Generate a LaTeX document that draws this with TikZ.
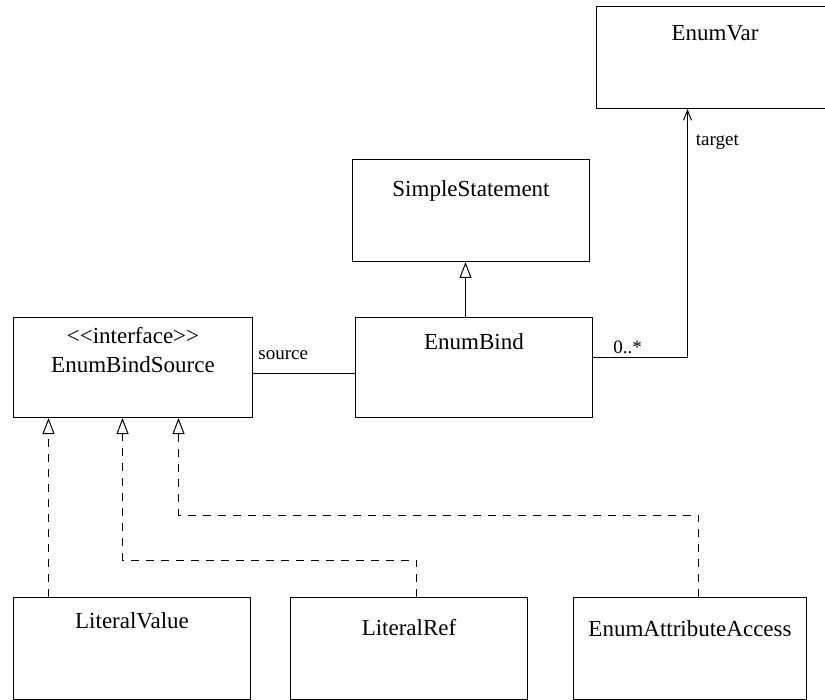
\documentclass[tikz,border=0pt]{standalone}
\usepackage{fontspec}
\setmainfont{Liberation Serif}
\usetikzlibrary{positioning,arrows.meta}

\begin{document}
\begin{tikzpicture}[x=0.5pt,y=-0.5pt,
  cls/.style={draw, line width=0.5pt, inner sep=0pt, minimum width=118.5pt,
    minimum height=51pt, anchor=north west},
  clsname/.style={inner sep=0pt, font=\fontsize{11.5}{14.5}\selectfont, align=center},
  role/.style={inner sep=1pt, font=\fontsize{9.5}{11}\selectfont},
  assoc/.style={line width=0.5pt},
  inherit/.style={line width=0.5pt, -{Triangle[open,length=8pt,width=6pt]}},
  realize/.style={inherit, dash pattern=on 4pt off 3.5pt}]
  \useasboundingbox (0,0) rectangle (825,700);

  \node[cls] (enumvar) at (596,6) {};
  \node[cls] (simplestmt) at (352,159) {};
  \node[cls, minimum height=50pt] (enumbind) at (355,317) {};
  \node[cls, minimum height=50pt, minimum width=119.5pt] (ebs) at (13,317) {};
  \node[cls] (litval) at (13,597) {};
  \node[cls] (litref) at (290,597) {};
  \node[cls, minimum width=116.5pt] (enumattr) at (573,597) {};

  \node[clsname, below=9.5pt of enumvar.north] (enumvarname) {EnumVar};
  \node[clsname, below=10.5pt of simplestmt.north] (simplestmtname) {SimpleStatement};
  \node[clsname, below=8pt of enumbind.north] (enumbindname) {EnumBind};
  \node[clsname, below=5pt of ebs.north] (ebsname) {<\kern0pt<interface>\kern0pt>\\EnumBindSource};
  \node[clsname, below=7.5pt of litval.north] (litvalname) {LiteralValue};
  \node[clsname, below=11pt of litref.north] (litrefname) {LiteralRef};
  \node[clsname, below=11.5pt of enumattr.north] (enumattrname) {EnumAttributeAccess};

  \draw[assoc] ([yshift=-3.25pt]ebs.east) -- ([yshift=-3.25pt]enumbind.west);
  \node[role, anchor=south west] (srclbl) at ([xshift=1.5pt,yshift=2.5pt]ebs.east) {source};

  \draw[assoc, -{Straight Barb[length=5pt,width=4pt]}]
    ([yshift=5pt]enumbind.east) -| ([xshift=-13.75pt]enumvar.south);
  \node[role, anchor=south west] (multlbl) at ([xshift=9pt,yshift=5.5pt]enumbind.east) {0..*};
  \node[role, anchor=north west] (tgtlbl) at ([xshift=-10.75pt,yshift=-11.5pt]enumvar.south) {target};

  \coordinate (gen) at ([xshift=-4.25pt]enumbind.north);
  \draw[inherit] (gen) -- (gen |- simplestmt.south);

  \coordinate (lvtop) at ([xshift=-41.75pt]litval.north);
  \draw[realize] (lvtop) -- (lvtop |- ebs.south);
  \coordinate (lrtop) at ([xshift=3.75pt]litref.north);
  \coordinate (lrend) at ([xshift=-5.25pt]ebs.south);
  \draw[realize] (lrtop) -- ++(0,-37) -| (lrend);
  \coordinate (eatop) at ([xshift=4.25pt]enumattr.north);
  \coordinate (eaend) at ([xshift=22.75pt]ebs.south);
  \draw[realize] (eatop) -- ++(0,-82) -| (eaend);
\end{tikzpicture}
\end{document}
